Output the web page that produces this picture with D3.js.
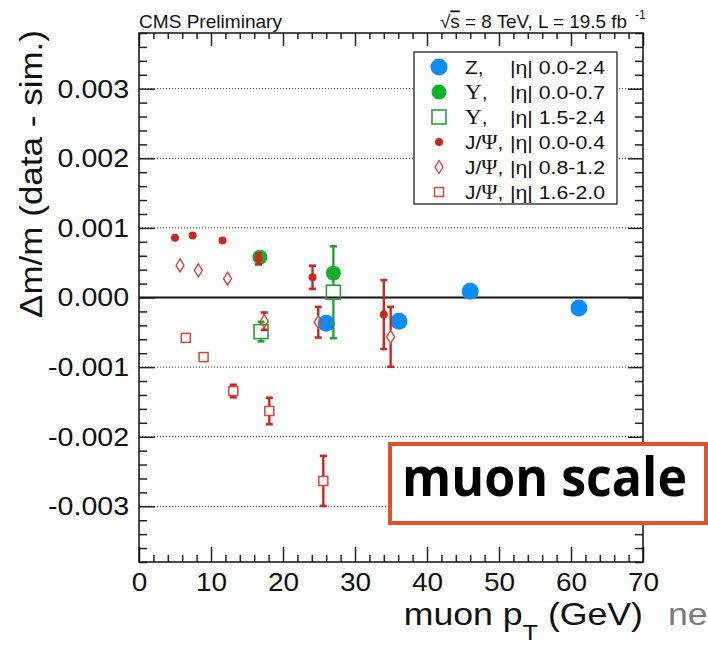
<!DOCTYPE html>
<html>
<head>
<meta charset="utf-8">
<script src="https://cdn.jsdelivr.net/npm/d3@7"></script>
<style>
  html, body { margin: 0; padding: 0; background: #fff; }
  svg { display: block; }
</style>
</head>
<body>
<div id="chart"></div>
<script>
// ---------------- data ----------------
const xTicksMajor = [0, 10, 20, 30, 40, 50, 60, 70];
const yTicksMajor = [-0.003, -0.002, -0.001, 0.000, 0.001, 0.002, 0.003];
const yTickLabels = ["-0.003", "-0.002", "-0.001", "0.000", "0.001", "0.002", "0.003"];

// Z, |eta| 0.0-2.4
const zPt  = [26.0, 36.1, 46.0, 61.1];
const zVal = [-0.00037, -0.00034, 0.00009, -0.00015];
const zErr = [0.00004, 0.00004, 0.00004, 0.00004];

// Upsilon, |eta| 0.0-0.7
const upsAPt  = [16.8, 27.0];
const upsAVal = [0.00058, 0.00035];
const upsAErr = [0.00006, 0.00009];

// Upsilon, |eta| 1.5-2.4
const upsBPt  = [16.95, 27.0];
const upsBVal = [-0.00049, 0.000076];
const upsBErr = [0.00014, 0.00066];

// J/Psi, |eta| 0.0-0.4
const jpsiAPt  = [5.0, 7.45, 11.6, 16.6, 24.1, 34.0];
const jpsiAVal = [0.00086, 0.00089, 0.00082, 0.000555, 0.00029, -0.000245];
const jpsiAErr = [0.00002, 0.00002, 0.00002, 0.00008, 0.000167, 0.000495];

// J/Psi, |eta| 0.8-1.2
const jpsiBPt  = [5.7, 8.24, 12.3, 17.4, 24.9, 34.95];
const jpsiBVal = [0.00046, 0.00039, 0.00027, -0.00034, -0.000355, -0.000565];
const jpsiBErr = [0.00003, 0.00003, 0.00003, 0.000125, 0.00022, 0.00043];

// J/Psi, |eta| 1.6-2.0
const jpsiCPt  = [6.5, 8.97, 13.1, 18.1, 25.6];
const jpsiCVal = [-0.00058, -0.000856, -0.001344, -0.00163, -0.002635];
const jpsiCErr = [0.00003, 0.00003, 0.00009, 0.00019, 0.00036];

const legendNames = ["Z,", "Υ,", "Υ,", "J/Ψ,", "J/Ψ,", "J/Ψ,"];
const legendEta = ["|η| 0.0-2.4", "|η| 0.0-0.7", "|η| 1.5-2.4", "|η| 0.0-0.4", "|η| 0.8-1.2", "|η| 1.6-2.0"];

// ---------------- layout ----------------
const W = 708, H = 645;
const L = 139, R = 643, T = 33, B = 562;
const BLUE = "#0a8cff", GREEN = "#12b22a", GREEN_L = "#2a9e36", RED = "#c9271f", RED_L = "#d0463c";
const FONT = "'Liberation Sans', Arial, Helvetica, sans-serif";

const svg = d3.select("#chart").append("svg").attr("width", W).attr("height", H);

const x = d3.scaleLinear().domain([0, 70]).range([L, R]);
const y = d3.scaleLinear().domain([-0.0038, 0.0038]).range([B, T]);

// gridlines (dotted) and zero line
svg.append("g").selectAll("line").data(yTicksMajor.filter(v => v !== 0)).join("line")
  .attr("x1", L).attr("x2", R).attr("y1", d => y(d)).attr("y2", d => y(d))
  .attr("stroke", "#222").attr("stroke-width", 1).attr("stroke-dasharray", "1,2");
svg.append("line").attr("x1", L).attr("x2", R).attr("y1", y(0)).attr("y2", y(0))
  .attr("stroke", "#111").attr("stroke-width", 2);

// axes with major/minor ticks
const xMinor = d3.range(0, 70.001, 2).filter(v => v % 10 !== 0);
const yMinor = d3.range(-38, 38.001, 2).map(v => v / 10000).filter(v => Math.abs(Math.round(v * 10000) % 10) !== 0);

function styleAxis(g) {
  g.select(".domain").remove();
  g.selectAll("line").attr("stroke", "#222").attr("stroke-width", 1.5);
}
// bottom
svg.append("g").attr("transform", `translate(0,${B})`)
  .call(d3.axisBottom(x).tickValues(xTicksMajor).tickSize(-15).tickPadding(11).tickFormat(d3.format("d")))
  .call(styleAxis)
  .call(g => g.selectAll("text").attr("font-family", FONT).attr("font-size", 25).attr("fill", "#111")
    .attr("transform", "scale(1.12,1)"));
svg.append("g").attr("transform", `translate(0,${B})`)
  .call(d3.axisBottom(x).tickValues(xMinor).tickSize(-7).tickFormat(""))
  .call(styleAxis);
// top
svg.append("g").attr("transform", `translate(0,${T})`)
  .call(d3.axisTop(x).tickValues(xTicksMajor).tickSize(-13).tickFormat(""))
  .call(styleAxis);
svg.append("g").attr("transform", `translate(0,${T})`)
  .call(d3.axisTop(x).tickValues(xMinor).tickSize(-6).tickFormat(""))
  .call(styleAxis);
// left
svg.append("g").attr("transform", `translate(${L},0)`)
  .call(d3.axisLeft(y).tickValues(yTicksMajor).tickSize(-16).tickPadding(9)
    .tickFormat((d, i) => yTickLabels[i]))
  .call(styleAxis)
  .call(g => g.selectAll("text").attr("font-family", FONT).attr("font-size", 26).attr("fill", "#111")
    .attr("transform", "scale(1.1,1)"));
svg.append("g").attr("transform", `translate(${L},0)`)
  .call(d3.axisLeft(y).tickValues(yMinor).tickSize(-8).tickFormat(""))
  .call(styleAxis);
// right
svg.append("g").attr("transform", `translate(${R},0)`)
  .call(d3.axisRight(y).tickValues(yTicksMajor).tickSize(-15).tickFormat(""))
  .call(styleAxis);
svg.append("g").attr("transform", `translate(${R},0)`)
  .call(d3.axisRight(y).tickValues(yMinor).tickSize(-8).tickFormat(""))
  .call(styleAxis);

// frame
svg.append("rect").attr("x", L).attr("y", T).attr("width", R - L).attr("height", B - T)
  .attr("fill", "none").attr("stroke", "#111").attr("stroke-width", 1.5);

// ---------------- markers ----------------
const markerDefs = {
  zc:   { half: 8.5, draw: (g) => g.append("circle").attr("r", 8.5).attr("fill", BLUE) },
  ua:   { half: 7.5, draw: (g) => g.append("circle").attr("r", 7.5).attr("fill", GREEN) },
  ub:   { half: 7,   open: true, draw: (g) => g.append("rect").attr("x", -7).attr("y", -7).attr("width", 14).attr("height", 14)
                     .attr("fill", "none").attr("stroke", GREEN_L).attr("stroke-width", 1.6) },
  ja:   { half: 4,   draw: (g) => g.append("circle").attr("r", 4).attr("fill", RED) },
  jb:   { half: 6.5, open: true, draw: (g) => g.append("path").attr("d", "M0,-6.5L4,0L0,6.5L-4,0Z")
                     .attr("fill", "none").attr("stroke", RED_L).attr("stroke-width", 1.4) },
  jc:   { half: 4.5, open: true, draw: (g) => g.append("rect").attr("x", -4.5).attr("y", -4.5).attr("width", 9).attr("height", 9)
                     .attr("fill", "none").attr("stroke", RED_L).attr("stroke-width", 1.5) }
};

function drawSeries(pts, vals, errs, color, key) {
  const m = markerDefs[key];
  const data = pts.map((p, i) => ({ p, v: vals[i], e: errs[i] }));
  const g = svg.append("g");
  data.forEach(d => {
    const cx = x(d.p), cy = y(d.v), up = y(d.v + d.e), dn = y(d.v - d.e);
    const ePx = cy - up;
    if (ePx > m.half) {
      if (m.open) {
        g.append("line").attr("x1", cx).attr("x2", cx).attr("y1", up).attr("y2", cy - m.half)
          .attr("stroke", color).attr("stroke-width", 2.4);
        g.append("line").attr("x1", cx).attr("x2", cx).attr("y1", cy + m.half).attr("y2", dn)
          .attr("stroke", color).attr("stroke-width", 2.4);
      } else {
        g.append("line").attr("x1", cx).attr("x2", cx).attr("y1", up).attr("y2", dn)
          .attr("stroke", color).attr("stroke-width", 2.4);
      }
      [up, dn].forEach(yy => g.append("line").attr("x1", cx - 3.5).attr("x2", cx + 3.5)
        .attr("y1", yy).attr("y2", yy).attr("stroke", color).attr("stroke-width", 2.6));
    }
    const mg = g.append("g").attr("transform", `translate(${cx},${cy})`);
    m.draw(mg);
  });
}

drawSeries(zPt, zVal, zErr, BLUE, "zc");
drawSeries(upsAPt, upsAVal, upsAErr, GREEN, "ua");
drawSeries(upsBPt, upsBVal, upsBErr, GREEN_L, "ub");
drawSeries(jpsiAPt, jpsiAVal, jpsiAErr, RED, "ja");
drawSeries(jpsiBPt, jpsiBVal, jpsiBErr, RED, "jb");
drawSeries(jpsiCPt, jpsiCVal, jpsiCErr, RED, "jc");

// ---------------- legend ----------------
const lg = svg.append("g");
lg.append("rect").attr("x", 414).attr("y", 52).attr("width", 203).attr("height", 152)
  .attr("fill", "#fff").attr("stroke", "#111").attr("stroke-width", 1.2);
const legendKeys = ["zc", "ua", "ub", "ja", "jb", "jc"];
const rowY = d3.scalePoint().domain(d3.range(6)).range([67, 192]);
legendKeys.forEach((k, i) => {
  const ry = rowY(i);
  markerDefs[k].draw(lg.append("g").attr("transform", `translate(439,${ry})`));
  const nm = legendNames[i];
  const t1 = lg.append("text").attr("transform", `translate(465,${ry + 7}) scale(1.1,1)`)
    .attr("font-family", FONT).attr("font-size", 19).attr("fill", "#111");
  if (nm.startsWith("Υ")) {
    t1.append("tspan").attr("font-family", "'Liberation Serif', serif").attr("font-size", 21).text("Υ");
    t1.append("tspan").text(",");
  } else if (nm.startsWith("J/")) {
    t1.append("tspan").text("J/");
    t1.append("tspan").attr("font-family", "'Liberation Serif', serif").attr("font-size", 20).text("Ψ");
    t1.append("tspan").text(",");
  } else {
    t1.text(nm);
  }
  lg.append("text").attr("transform", `translate(510,${ry + 7}) scale(1.12,1)`)
    .attr("font-family", FONT).attr("font-size", 19).attr("fill", "#111").text(legendEta[i]);
});

// ---------------- titles ----------------
svg.append("text").attr("transform", `translate(139,28) scale(1.06,1)`)
  .attr("font-family", FONT).attr("font-size", 18).attr("fill", "#111").text("CMS Preliminary");
const hdr = svg.append("text").attr("transform", `translate(627,28) scale(1.05,1)`)
  .attr("text-anchor", "end").attr("font-family", FONT).attr("font-size", 18).attr("fill", "#111");
hdr.append("tspan").text("√");
hdr.append("tspan").attr("text-decoration", "overline").text("s");
hdr.append("tspan").text(" = 8 TeV, L = 19.5 fb");
svg.append("text").attr("x", 635).attr("y", 19).attr("font-family", FONT).attr("font-size", 12)
  .attr("fill", "#111").text("-1");

// y title
svg.append("text").attr("transform", `translate(42,30) rotate(-90) scale(1.13,1)`)
  .attr("text-anchor", "end").attr("font-family", FONT).attr("font-size", 31).attr("fill", "#111")
  .text("Δm/m (data - sim.)");

// x title
const xt = svg.append("text").attr("transform", `translate(643,625) scale(1.15,1)`)
  .attr("text-anchor", "end").attr("font-family", FONT).attr("font-size", 31).attr("fill", "#111");
xt.append("tspan").text("muon p");
xt.append("tspan").attr("font-size", 22).attr("dy", 15).text("T");
xt.append("tspan").attr("dy", -15).text(" (GeV)");

svg.append("text").attr("transform", `translate(668,625) scale(1.15,1)`)
  .attr("font-family", FONT).attr("font-size", 31).attr("fill", "#7a7a7a").text("ne");

// "muon scale" box
svg.append("rect").attr("x", 390).attr("y", 444).attr("width", 316).attr("height", 79)
  .attr("fill", "#fff").attr("stroke", "#e0522a").attr("stroke-width", 4);
svg.append("text").attr("x", 402).attr("y", 496).attr("font-family", "'Open Sans', sans-serif")
  .attr("font-weight", 700).attr("font-size", 54).attr("fill", "#000")
  .attr("textLength", 285).attr("lengthAdjust", "spacingAndGlyphs").text("muon scale");
</script>
</body>
</html>
